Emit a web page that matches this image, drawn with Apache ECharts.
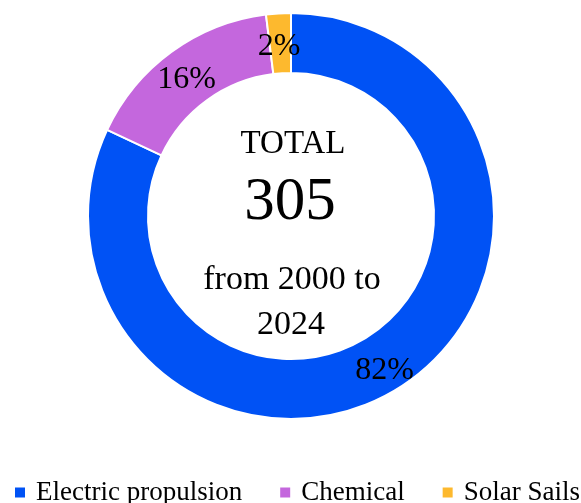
<!DOCTYPE html>
<html>
<head>
<meta charset="utf-8">
<script src="https://cdn.jsdelivr.net/npm/echarts@6/dist/echarts.min.js"></script>
<style>html,body{margin:0;padding:0;background:#fff}#c{width:581px;height:503px}</style>
</head>
<body>
<div id="c"></div>
<script>
const categories = ['Electric propulsion', 'Chemical', 'Solar Sails'];
const values = [250, 49, 6];
const colors = ['#0052F5', '#C467DD', '#FDB92E'];
const periodStart = 2000;
const periodEnd = 2024;

const total = values.reduce((a, b) => a + b, 0);
const serif = '"Liberation Serif", "DejaVu Serif", serif';

const chart = echarts.init(document.getElementById('c'));
chart.setOption({
  animation: false,
  color: colors,
  legend: {
    data: categories,
    left: 13,
    top: 479,
    width: 575,
    padding: 0,
    icon: 'rect',
    itemWidth: 12,
    itemHeight: 12,
    itemGap: 36,
    textStyle: { fontFamily: serif, fontSize: 27, color: '#000', padding: [0, 0, 0, 5] }
  },
  graphic: [
    { type: 'text', x: 293, y: 144, style: { text: 'TOTAL', font: '33px ' + serif, fill: '#000', align: 'center', verticalAlign: 'middle' } },
    { type: 'text', x: 290, y: 203, style: { text: String(total), font: '61px ' + serif, fill: '#000', align: 'center', verticalAlign: 'middle' } },
    { type: 'text', x: 292, y: 280, style: { text: 'from ' + periodStart + ' to', font: '34px ' + serif, fill: '#000', align: 'center', verticalAlign: 'middle' } },
    { type: 'text', x: 291, y: 325, style: { text: String(periodEnd), font: '34px ' + serif, fill: '#000', align: 'center', verticalAlign: 'middle' } }
  ],
  series: [{
    type: 'pie',
    center: [291, 216],
    radius: [143, 203],
    startAngle: 90,
    clockwise: true,
    avoidLabelOverlap: false,
    itemStyle: { borderColor: '#fff', borderWidth: 2 },
    label: {
      show: true,
      position: 'inside',
      color: '#000',
      fontFamily: serif,
      fontSize: 32,
      offset: [-1, 6],
      formatter: p => Math.round(p.percent) + '%'
    },
    labelLine: { show: false },
    emphasis: { disabled: true },
    data: categories.map((n, i) => ({ name: n, value: values[i] }))
  }]
});
</script>
</body>
</html>
